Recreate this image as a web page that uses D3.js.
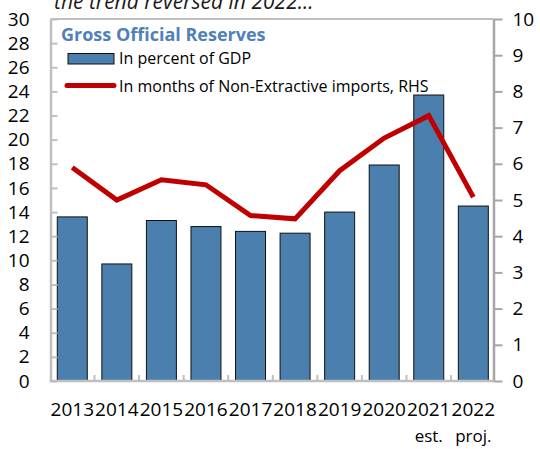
<!DOCTYPE html>
<html><head><meta charset="utf-8">
<script src="https://cdn.jsdelivr.net/npm/d3@7"></script>
<style>
html,body{margin:0;padding:0;background:#fff;}
svg{display:block;font-family:"Open Sans",sans-serif;}
</style></head>
<body>
<svg id="chart" width="540" height="449"></svg>
<script>
const years = ["2013","2014","2015","2016","2017","2018","2019","2020","2021","2022"];
const subLabels = ["","","","","","","","","est.","proj."];
const pctGDP = [13.6, 9.7, 13.3, 12.8, 12.4, 12.25, 14.0, 17.9, 23.7, 14.5];
const monthsImports = [5.9, 5.0, 5.56, 5.42, 4.57, 4.48, 5.81, 6.71, 7.33, 5.08];
const leftTicks = [0,2,4,6,8,10,12,14,16,18,20,22,24,26,28,30];
const rightTicks = [0,1,2,3,4,5,6,7,8,9,10];
const titleText = "the trend reversed in 2022...";
const boxTitle = "Gross Official Reserves";
const legendBar = "In percent of GDP";
const legendLine = "In months of Non-Extractive imports, RHS";

(function () {
const svg = d3.select("#chart");
const pLeft = 50.5, pRight = 493.5, pTop = 19, pBottom = 381;

const x = d3.scaleBand().domain(years).range([50, 495.6]).paddingInner(0.327).paddingOuter(0.1635);
const yL = d3.scaleLinear().domain([0, 30]).range([pBottom, pTop]);
const yR = d3.scaleLinear().domain([0, 10]).range([pBottom, pTop]);

// clipped title (cut off at the top edge, as in the reference)
svg.append("text").attr("x", 54).attr("y", 8.5).attr("font-size", 21).attr("font-style", "italic")
  .attr("fill", "#1a1a1a").text(titleText);

// frame top
svg.append("line").attr("x1", pLeft).attr("x2", pRight).attr("y1", pTop).attr("y2", pTop)
  .attr("stroke", "#bfbfbf").attr("stroke-width", 2);

// bars
svg.append("g").selectAll("rect").data(years).join("rect")
  .attr("x", d => x(d)).attr("width", x.bandwidth())
  .attr("y", (d, i) => yL(pctGDP[i])).attr("height", (d, i) => pBottom - yL(pctGDP[i]))
  .attr("fill", "#4a7fae").attr("stroke", "#111").attr("stroke-width", 1);

// line
const line = d3.line().x((d, i) => x(years[i]) + x.bandwidth() / 2).y(d => yR(d));
svg.append("path").datum(monthsImports).attr("d", line).attr("fill", "none")
  .attr("stroke", "#c00000").attr("stroke-width", 5).attr("stroke-linejoin", "miter").attr("stroke-linecap", "butt");

// left axis
const gL = svg.append("g").attr("transform", `translate(${pLeft},0)`)
  .call(d3.axisLeft(yL).tickValues(leftTicks).tickSize(-7).tickPadding(21).tickSizeOuter(0));
gL.select(".domain").attr("stroke", "#bfbfbf").attr("stroke-width", 2.5);
gL.selectAll(".tick line").attr("stroke", "#bfbfbf").attr("stroke-width", 2);
gL.selectAll("text").attr("font-size", 19).attr("fill", "#000").attr("font-family", "Open Sans");

// right axis
const gR = svg.append("g").attr("transform", `translate(${pRight},0)`)
  .call(d3.axisRight(yR).tickValues(rightTicks).tickSize(9).tickPadding(10).tickSizeOuter(0));
gR.select(".domain").attr("stroke", "#a6a6a6").attr("stroke-width", 2.5);
gR.selectAll(".tick line").attr("stroke", "#a6a6a6").attr("stroke-width", 2);
gR.selectAll("text").attr("font-size", 19).attr("fill", "#000").attr("font-family", "Open Sans");

// bottom axis
const gB = svg.append("g").attr("transform", `translate(0,${pBottom})`)
  .call(d3.axisBottom(x).tickSize(0).tickPadding(22));
gB.select(".domain").attr("d", `M${pLeft - 1},0H${pRight}`).attr("stroke", "#bfbfbf").attr("stroke-width", 2.5);
gB.selectAll("text").attr("font-size", 19).attr("fill", "#000").attr("font-family", "Open Sans");
gB.selectAll(".tick").append("text").attr("y", 61).attr("fill", "#000").attr("font-size", 17)
  .attr("font-family", "Open Sans").attr("text-anchor", "middle").text((d, i) => subLabels[i]);
// category boundary ticks
svg.append("g").selectAll("line").data(years.slice(1)).join("line")
  .attr("x1", d => x(d) - (x.step() - x.bandwidth()) / 2).attr("x2", d => x(d) - (x.step() - x.bandwidth()) / 2)
  .attr("y1", pBottom).attr("y2", pBottom - 6).attr("stroke", "#bfbfbf").attr("stroke-width", 2);

// box title & legend
svg.append("text").attr("x", 61).attr("y", 41).attr("font-size", 18).attr("font-weight", "bold")
  .attr("fill", "#4f81b8").attr("font-family", "Open Sans").text(boxTitle);
svg.append("rect").attr("x", 68).attr("y", 53.5).attr("width", 46).attr("height", 10.5)
  .attr("fill", "#4a7fae").attr("stroke", "#111").attr("stroke-width", 1);
svg.append("text").attr("x", 119).attr("y", 64).attr("font-size", 16).attr("fill", "#000").text(legendBar);
svg.append("line").attr("x1", 67).attr("x2", 114).attr("y1", 85.5).attr("y2", 85.5)
  .attr("stroke", "#c00000").attr("stroke-width", 5).attr("stroke-linecap", "round");
svg.append("text").attr("x", 119).attr("y", 91.5).attr("font-size", 16).attr("fill", "#000").text(legendLine);
})();
</script>
</body></html>
